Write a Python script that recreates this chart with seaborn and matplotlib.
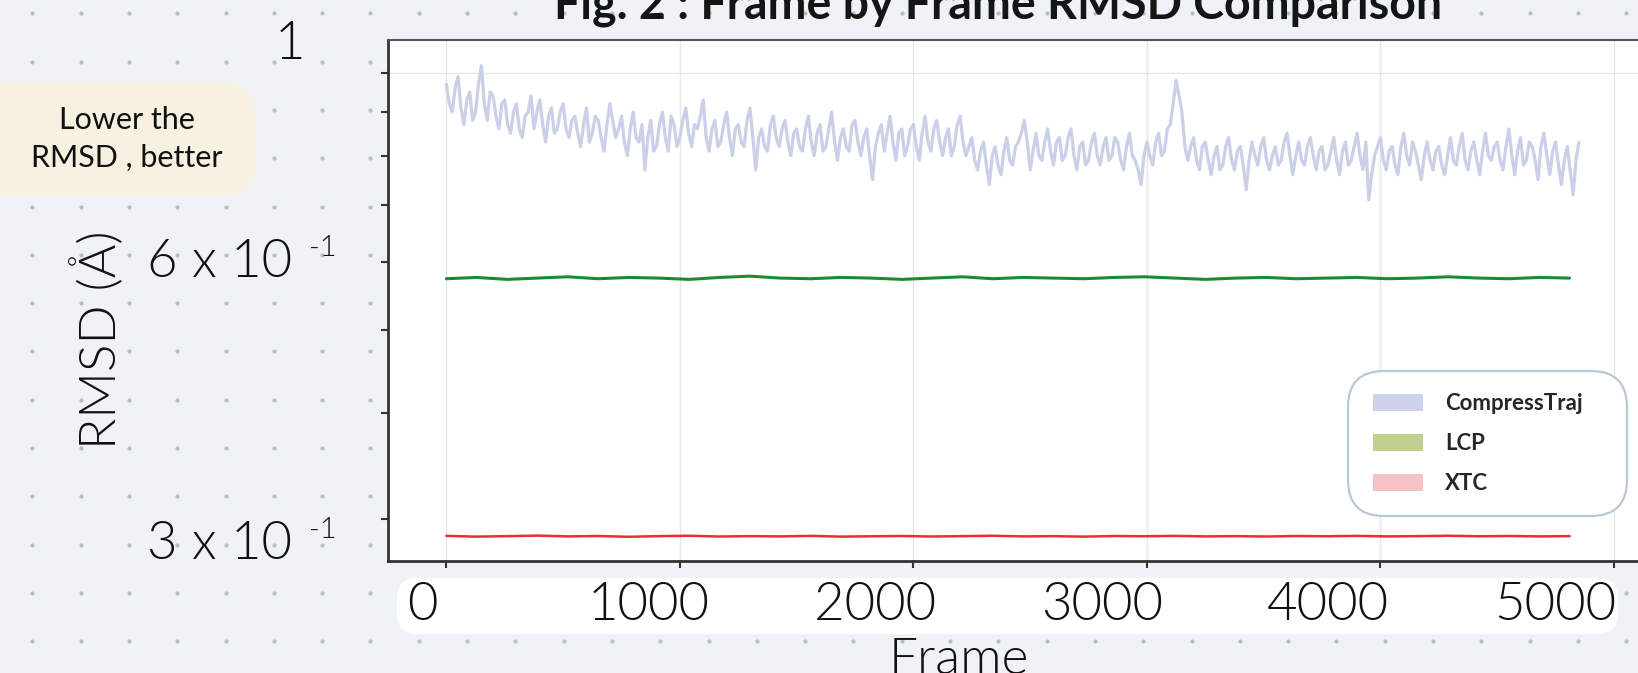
import numpy as np
import matplotlib
matplotlib.use("Agg")
import matplotlib.pyplot as plt
from matplotlib.patches import FancyBboxPatch, Patch
from matplotlib.ticker import FixedLocator, NullFormatter
from matplotlib.transforms import ScaledTranslation
import seaborn as sns

# Frame-by-frame RMSD, values
# CompressTraj: readings every 25 frames, plus the in-between readings (12.5 frames later)
frames_ct = np.arange(0, 4862.5, 12.5)
ct_main = [
    0.97, 0.90, 0.99, 0.87, 0.95, 0.90, 1.02, 0.88, 0.94, 0.86,
    0.93, 0.85, 0.92, 0.84, 0.90, 0.86, 0.93, 0.83, 0.91, 0.86,
    0.92, 0.84, 0.89, 0.82, 0.91, 0.85, 0.88, 0.81, 0.92, 0.84,
    0.89, 0.80, 0.90, 0.83, 0.77, 0.88, 0.82, 0.90, 0.81, 0.87,
    0.84, 0.91, 0.82, 0.86, 0.93, 0.81, 0.88, 0.83, 0.90, 0.80,
    0.87, 0.82, 0.91, 0.77, 0.86, 0.81, 0.89, 0.82, 0.88, 0.80,
    0.86, 0.81, 0.89, 0.80, 0.87, 0.82, 0.90, 0.79, 0.86, 0.81,
    0.88, 0.80, 0.86, 0.75, 0.85, 0.81, 0.89, 0.79, 0.86, 0.82,
    0.87, 0.79, 0.89, 0.81, 0.88, 0.80, 0.86, 0.82, 0.89, 0.80,
    0.84, 0.77, 0.83, 0.74, 0.82, 0.76, 0.84, 0.78, 0.83, 0.88,
    0.77, 0.85, 0.79, 0.86, 0.78, 0.84, 0.80, 0.86, 0.77, 0.83,
    0.79, 0.85, 0.78, 0.84, 0.80, 0.83, 0.77, 0.85, 0.79, 0.74,
    0.83, 0.78, 0.85, 0.81, 0.87, 0.98, 0.90, 0.79, 0.84, 0.77,
    0.83, 0.76, 0.82, 0.78, 0.84, 0.77, 0.82, 0.73, 0.83, 0.78,
    0.84, 0.77, 0.82, 0.79, 0.85, 0.76, 0.83, 0.78, 0.84, 0.77,
    0.82, 0.78, 0.84, 0.76, 0.83, 0.79, 0.85, 0.77, 0.71, 0.80,
    0.84, 0.77, 0.82, 0.76, 0.85, 0.78, 0.81, 0.75, 0.83, 0.77,
    0.82, 0.76, 0.84, 0.78, 0.85, 0.77, 0.83, 0.76, 0.85, 0.79,
    0.83, 0.77, 0.86, 0.76, 0.84, 0.79, 0.82, 0.75, 0.85, 0.76,
    0.83, 0.74, 0.82, 0.72, 0.83,
]
ct_mid = [
    0.92, 0.96, 0.91, 0.93, 0.88, 0.97, 0.92, 0.95, 0.89, 0.92,
    0.87, 0.90, 0.86, 0.89, 0.94, 0.90, 0.87, 0.89, 0.85, 0.90,
    0.86, 0.88, 0.85, 0.87, 0.83, 0.89, 0.84, 0.87, 0.88, 0.86,
    0.83, 0.86, 0.84, 0.87, 0.84, 0.81, 0.87, 0.84, 0.89, 0.82,
    0.88, 0.85, 0.87, 0.89, 0.84, 0.86, 0.82, 0.87, 0.84, 0.86,
    0.83, 0.88, 0.84, 0.84, 0.82, 0.87, 0.84, 0.86, 0.83, 0.85,
    0.82, 0.86, 0.83, 0.85, 0.81, 0.86, 0.83, 0.84, 0.82, 0.87,
    0.83, 0.84, 0.80, 0.82, 0.87, 0.85, 0.83, 0.85, 0.80, 0.86,
    0.82, 0.85, 0.83, 0.86, 0.83, 0.84, 0.80, 0.87, 0.83, 0.82,
    0.79, 0.81, 0.78, 0.80, 0.78, 0.81, 0.79, 0.82, 0.85, 0.83,
    0.81, 0.80, 0.83, 0.81, 0.83, 0.79, 0.84, 0.80, 0.82, 0.78,
    0.83, 0.80, 0.82, 0.79, 0.84, 0.79, 0.82, 0.80, 0.77, 0.80,
    0.80, 0.83, 0.80, 0.86, 0.92, 0.94, 0.82, 0.82, 0.79, 0.82,
    0.79, 0.80, 0.77, 0.82, 0.79, 0.81, 0.78, 0.79, 0.80, 0.82,
    0.79, 0.80, 0.78, 0.83, 0.80, 0.80, 0.79, 0.82, 0.80, 0.81,
    0.77, 0.81, 0.79, 0.81, 0.78, 0.82, 0.80, 0.83, 0.76, 0.82,
    0.79, 0.81, 0.78, 0.82, 0.80, 0.83, 0.78, 0.80, 0.79, 0.81,
    0.78, 0.80, 0.79, 0.82, 0.79, 0.81, 0.79, 0.81, 0.80, 0.82,
    0.79, 0.82, 0.80, 0.81, 0.78, 0.83, 0.79, 0.82, 0.80, 0.81,
    0.78, 0.79, 0.77, 0.79,
]
compresstraj = np.empty(len(frames_ct))
compresstraj[0::2] = ct_main
compresstraj[1::2] = ct_mid

frames_lc = np.arange(0, 4811, 130)
lcp = [
    0.574, 0.576, 0.573, 0.575, 0.577, 0.574, 0.576, 0.575, 0.573, 0.576,
    0.578, 0.575, 0.574, 0.576, 0.575, 0.573, 0.575, 0.577, 0.574, 0.576,
    0.575, 0.574, 0.576, 0.577, 0.575, 0.573, 0.575, 0.576, 0.574, 0.575,
    0.576, 0.574, 0.575, 0.577, 0.575, 0.574, 0.576, 0.575,
]
xtc = [
    0.2868, 0.2862, 0.2866, 0.2870, 0.2864, 0.2867, 0.2861, 0.2866, 0.2869, 0.2863,
    0.2866, 0.2864, 0.2868, 0.2862, 0.2865, 0.2867, 0.2863, 0.2866, 0.2869, 0.2864,
    0.2866, 0.2862, 0.2867, 0.2865, 0.2868, 0.2864, 0.2866, 0.2863, 0.2867, 0.2865,
    0.2868, 0.2864, 0.2866, 0.2869, 0.2865, 0.2867, 0.2864, 0.2866,
]

series_names = ["CompressTraj", "LCP", "XTC"]
line_colors = ["#c9d0e7", "#1d8a30", "#ee2e2e"]
legend_colors = ["#cdd3e8", "#c0d18f", "#f5c3c5"]
x_ticks = [0, 1000, 2000, 3000, 4000, 5000]
y_minor = [0.3, 0.4, 0.5, 0.6, 0.7, 0.8, 0.9]
y_labels = {1.0: ("1", None), 0.6: ("6 x 10", "-1"), 0.3: ("3 x 10", "-1")}

sns.set_theme(style="white")
plt.rcParams["font.family"] = ["Lato", "DejaVu Sans"]
LIGHT = 300

W, H = 1638, 673
fig = plt.figure(figsize=(W / 100, H / 100), dpi=100)
fig.patch.set_facecolor("#eff3f7")

# background layer: dot grid, callout and tick-label strip
bg = fig.add_axes([0, 0, 1, 1], zorder=-10)
bg.set_xlim(0, W)
bg.set_ylim(H, 0)
bg.axis("off")
gx, gy = np.meshgrid(np.arange(32.4, W, 48.3), np.arange(13.3, H, 48.3))
bg.scatter(gx.ravel(), gy.ravel(), s=9, color="#b5bdc5", linewidths=0, zorder=1)
bg.add_patch(FancyBboxPatch((397, 578), 1221, 56, boxstyle="round,pad=0,rounding_size=20",
                            fc="white", ec="none", zorder=2))
bg.add_patch(FancyBboxPatch((-30, 81.5), 286, 115, boxstyle="round,pad=0,rounding_size=34",
                            fc="#f7f1e1", ec="none", zorder=2))
bg.text(127, 139, "Lower the\nRMSD , better", ha="center", va="center", fontsize=22,
        linespacing=1.45, color="#111111", zorder=3)

fig.text(998 / W, 1 - 18.3 / H, "Fig. 2 : Frame by Frame RMSD Comparison", ha="center",
         va="baseline", fontsize=33.5, fontweight="bold", color="#151515")

ax = fig.add_axes([388 / W, 112 / H, 1 - 388 / W, 521.3 / H])
ax.set_facecolor("white")
sns.lineplot(x=frames_ct, y=compresstraj, ax=ax, color=line_colors[0], linewidth=2.3,
             estimator=None, legend=False)
sns.lineplot(x=frames_lc, y=lcp, ax=ax, color=line_colors[1], linewidth=2.2,
             estimator=None, legend=False)
sns.lineplot(x=frames_lc, y=xtc, ax=ax, color=line_colors[2], linewidth=1.8,
             estimator=None, legend=False)

ax.set_yscale("log")
ax.set_ylim(0.268, 1.094)
ax.set_xlim(-250, 5103)
ax.yaxis.set_major_locator(FixedLocator([1.0]))
ax.yaxis.set_minor_locator(FixedLocator(y_minor))
ax.yaxis.set_major_formatter(NullFormatter())
ax.yaxis.set_minor_formatter(NullFormatter())
ax.grid(True, which="major", color="#e3e6ea", linewidth=1)

ax.set_xticks(x_ticks)
ax.set_xticklabels([str(t) for t in x_ticks], fontsize=38, fontweight=LIGHT, color="#111111")
ax.tick_params(axis="x", bottom=True, length=5, width=1.5, color="#333333", pad=10)
ax.tick_params(axis="y", which="both", left=True, length=5, width=1.5, color="#333333")
for i, tick in enumerate(ax.xaxis.get_major_ticks()):
    dx = (-24 - 7 * i) / 100
    tick.label1.set_transform(tick.label1.get_transform() + ScaledTranslation(dx, 0, fig.dpi_scale_trans))

for val, (main, sup) in y_labels.items():
    if sup is None:
        ax.annotate(main, xy=(0, val), xycoords=("axes fraction", "data"), xytext=(-98, 28),
                    textcoords="offset pixels", ha="center", va="center", fontsize=38,
                    fontweight=LIGHT, color="#111111", annotation_clip=False)
        continue
    dy = 0 if val == 0.6 else -25
    ax.annotate(main, xy=(0, val), xycoords=("axes fraction", "data"), xytext=(-96, dy),
                textcoords="offset pixels", ha="right", va="center", fontsize=38,
                fontweight=LIGHT, color="#111111", annotation_clip=False)
    ax.annotate(sup, xy=(0, val), xycoords=("axes fraction", "data"), xytext=(-79, dy + 14),
                textcoords="offset pixels", ha="left", va="center", fontsize=21,
                fontweight=LIGHT, color="#111111", annotation_clip=False)

ax.set_ylabel("RMSD (Å)", fontsize=37, fontweight=LIGHT, color="#111111")
ax.yaxis.set_label_coords(-0.211, 0.424)
ax.set_xlabel("Frame", fontsize=37, fontweight=LIGHT, color="#111111")
ax.xaxis.set_label_coords(0.457, -0.146)

for side in ["left", "bottom"]:
    ax.spines[side].set_color("#333333")
    ax.spines[side].set_linewidth(2)
ax.spines["top"].set_color("#555555")
ax.spines["top"].set_linewidth(1.5)
ax.spines["right"].set_visible(False)

# legend with a rounded frame drawn separately
handles = [Patch(facecolor=c, edgecolor="none", label=n) for n, c in zip(series_names, legend_colors)]
ax.add_patch(FancyBboxPatch((1348, 371), 279, 145, boxstyle="round,pad=0,rounding_size=36",
                            fc="white", ec="#b9c7d6", lw=1.6, transform=bg.transData,
                            clip_on=False, zorder=4.5))
ax.legend(handles=handles, loc="upper left", bbox_to_anchor=(1373 / W, 1 - 393 / H),
          bbox_transform=fig.transFigure, frameon=False, borderpad=0, borderaxespad=0,
          handlelength=2.25, handleheight=0.8, handletextpad=1.0, labelspacing=0.85,
          prop={"family": ["Lato", "DejaVu Sans"], "weight": "bold", "size": 16})

fig.savefig("out.png", dpi=100, facecolor=fig.get_facecolor())
